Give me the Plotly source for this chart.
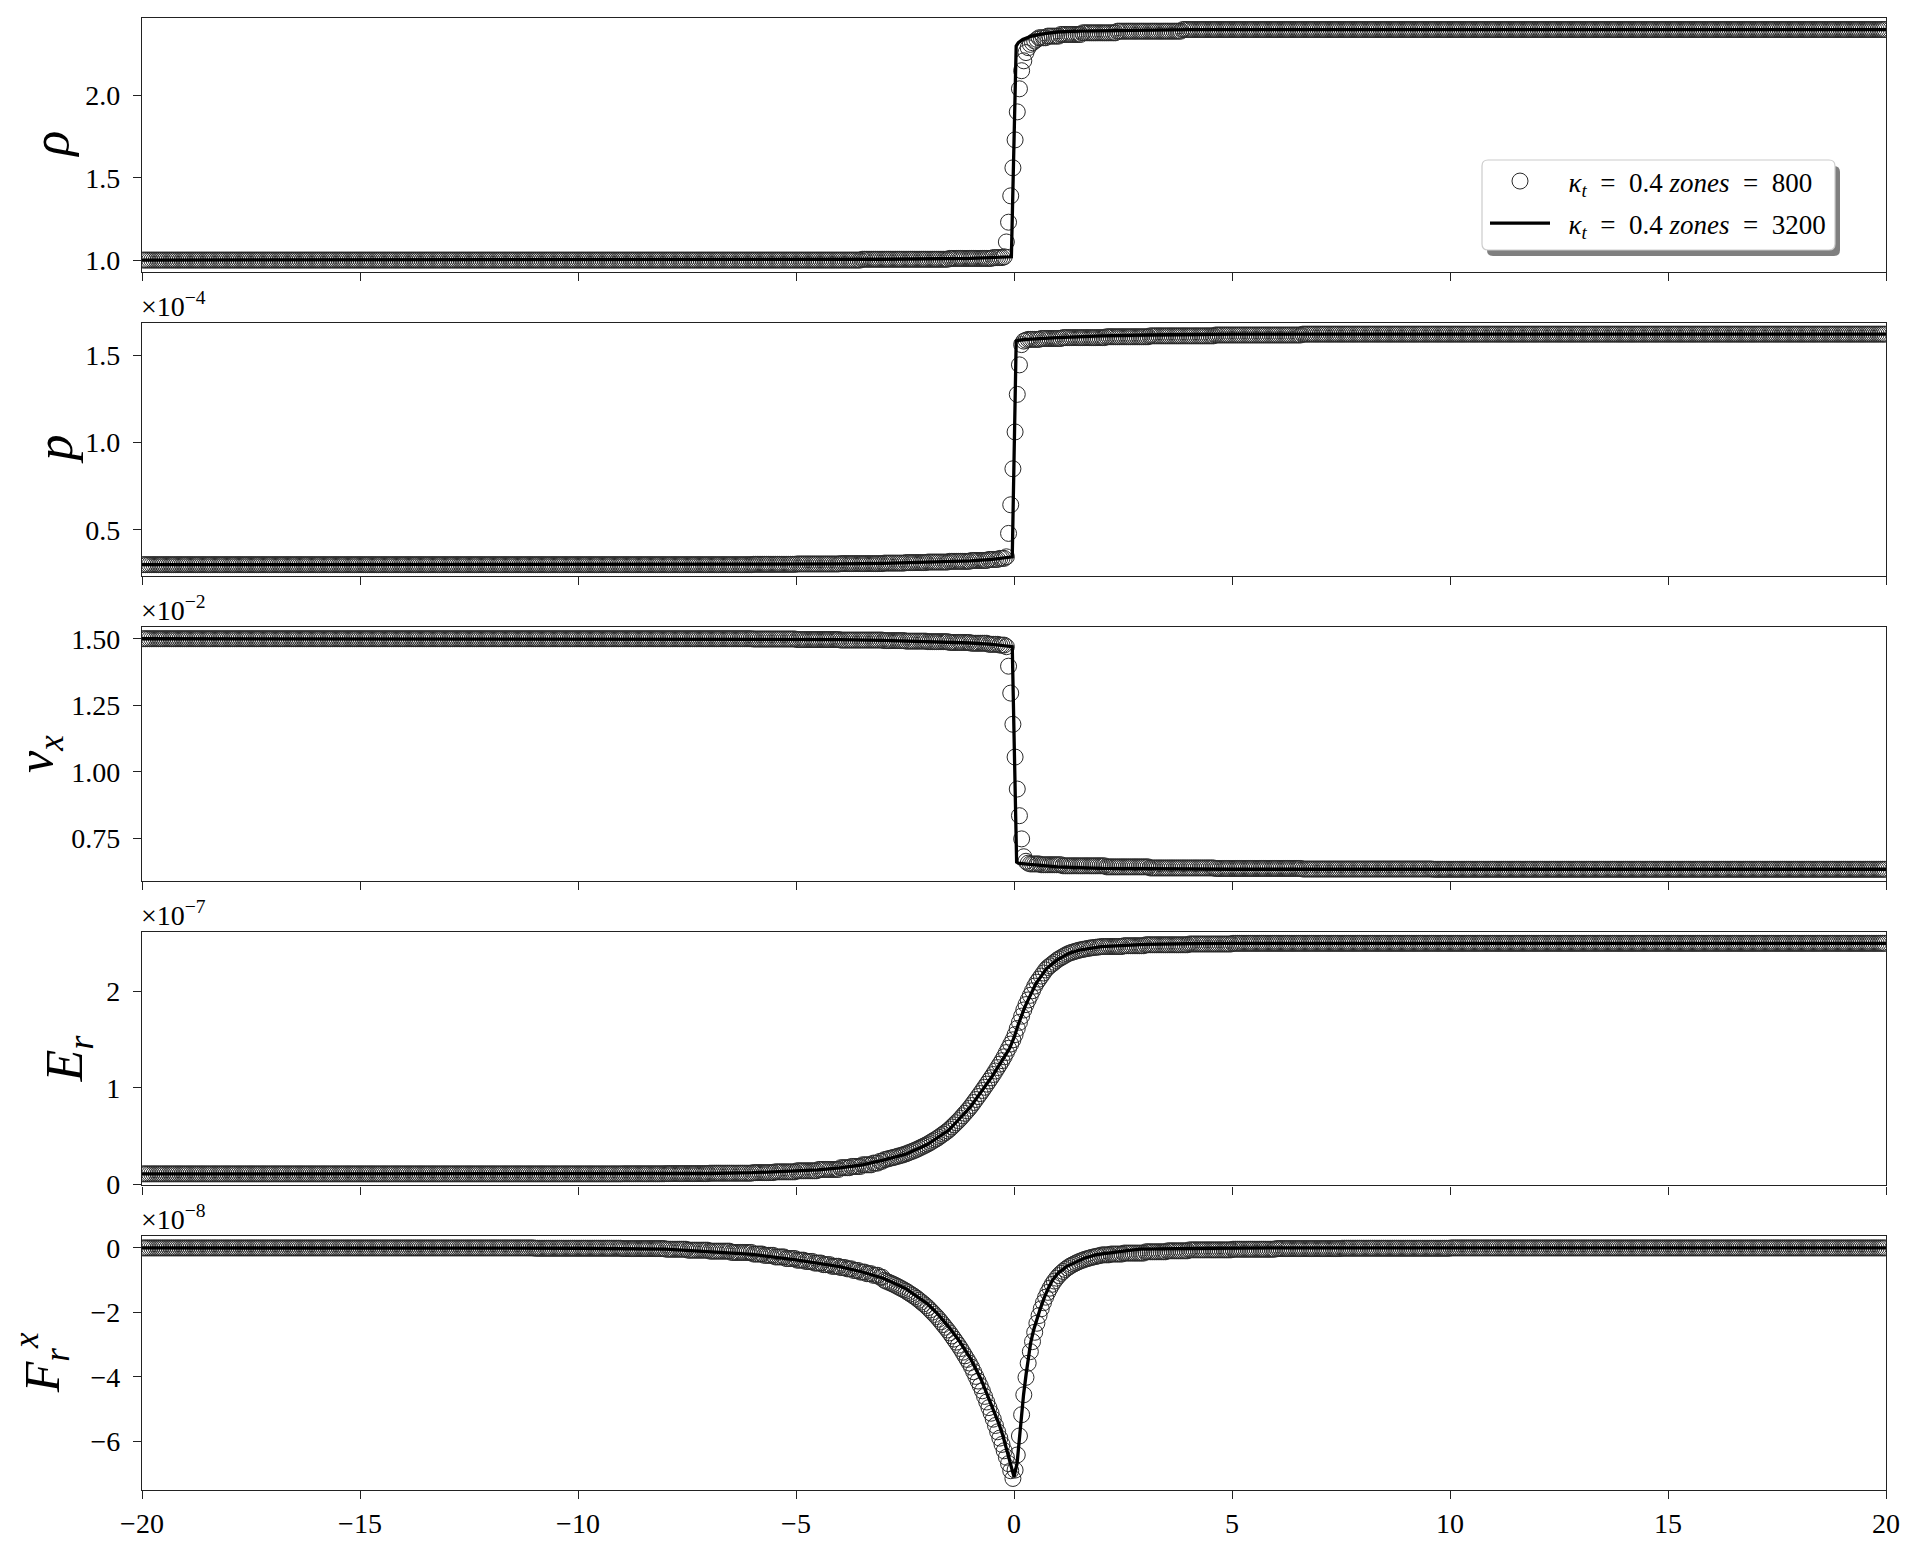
import numpy as np
import plotly.graph_objects as go

# ---------------------------------------------------------------------------
# Data. Values are in the units shown on each
# axis (multipliers x10^-4, x10^-2, x10^-7, x10^-8 are printed above panels).
# ---------------------------------------------------------------------------
X_MIN, X_MAX = -20.0, 20.0
N_LO = 800          # zones in the coarse run (circles)
X_TICKS = [-20, -15, -10, -5, 0, 5, 10, 15, 20]

EQ = "\u2002=\u2002"
SP = "\u2002"
LABEL_LO = f"{SP}<i>κ</i><sub><i>t</i></sub>{EQ}0.4 <i>zones</i>{EQ}800"
LABEL_HI = f"{SP}<i>κ</i><sub><i>t</i></sub>{EQ}0.4 <i>zones</i>{EQ}3200"

# Coarse run: per zone values. LEFT / RIGHT are runs of (value, number of zones),
# FRONT lists one value per zone across the shock.
RHO_LO_LEFT = [(1.000, 330), (1.005, 40), (1.010, 20), (1.015, 5), (1.020, 1)]
RHO_LO_FRONT = [1.11, 1.23, 1.39, 1.56, 1.73, 1.90, 2.04, 2.15, 2.21, 2.26,
                2.29, 2.31, 2.32, 2.33, 2.34]
RHO_LO_RIGHT = [(2.35, 4), (2.36, 6), (2.37, 10), (2.38, 16), (2.39, 30), (2.40, 323)]

P_LO_LEFT = [(0.300, 280), (0.302, 20), (0.304, 20), (0.306, 20), (0.309, 10),
             (0.312, 10), (0.315, 10), (0.319, 10), (0.324, 8), (0.330, 5), (0.336, 3)]
P_LO_FRONT = [0.345, 0.479, 0.643, 0.849, 1.060, 1.275, 1.444, 1.560, 1.580, 1.585]
P_LO_RIGHT = [(1.590, 6), (1.595, 10), (1.600, 20), (1.605, 20), (1.610, 30),
              (1.615, 40), (1.620, 268)]

VX_LO_LEFT = [(1.500, 280), (1.499, 20), (1.497, 20), (1.495, 20), (1.493, 10),
              (1.491, 10), (1.489, 10), (1.486, 10), (1.483, 8), (1.479, 5), (1.476, 3)]
VX_LO_FRONT = [1.470, 1.397, 1.296, 1.179, 1.056, 0.936, 0.836, 0.749, 0.682,
               0.665, 0.658]
VX_LO_RIGHT = [(0.655, 5), (0.652, 10), (0.648, 20), (0.644, 20), (0.640, 30),
               (0.638, 40), (0.636, 60), (0.635, 208)]

ER_LO_LEFT = [(0.106, 220), (0.107, 20), (0.109, 20), (0.113, 20), (0.119, 10),
              (0.127, 10), (0.138, 10), (0.152, 10), (0.170, 5), (0.183, 5),
              (0.200, 5), (0.218, 3), (0.236, 2)]
ER_LO_FRONT = [
    0.253, 0.258, 0.264, 0.270, 0.275, 0.281, 0.288, 0.294, 0.300, 0.307,
    0.315, 0.324, 0.333, 0.342, 0.351, 0.361, 0.372, 0.383, 0.394, 0.405,
    0.417, 0.430, 0.444, 0.458, 0.471, 0.486, 0.503, 0.519, 0.535, 0.552,
    0.571, 0.593, 0.615, 0.637, 0.659, 0.683, 0.709, 0.735, 0.761, 0.787,
    0.816, 0.847, 0.878, 0.909, 0.940, 0.972, 1.005, 1.038, 1.071, 1.104,
    1.138, 1.174, 1.210, 1.246, 1.282, 1.322, 1.366, 1.410, 1.454, 1.498,
    1.552, 1.616, 1.680, 1.744, 1.808, 1.864, 1.912, 1.960, 2.008, 2.056,
    2.096, 2.128, 2.160, 2.192, 2.224, 2.249, 2.267, 2.285, 2.303, 2.321,
    2.337, 2.350, 2.363, 2.376, 2.389, 2.399, 2.406, 2.413, 2.420, 2.427,
    2.432, 2.437, 2.441, 2.445, 2.450, 2.453, 2.456, 2.459, 2.461, 2.464]
ER_LO_RIGHT = [(2.467, 10), (2.475, 10), (2.485, 20), (2.493, 20), (2.500, 300)]

FR_LO_LEFT = [(0.00, 180), (-0.01, 40), (-0.02, 20), (-0.04, 10), (-0.07, 10),
              (-0.10, 10), (-0.14, 10), (-0.19, 5), (-0.23, 5), (-0.28, 5),
              (-0.33, 5), (-0.38, 4), (-0.42, 4), (-0.47, 4), (-0.52, 4),
              (-0.57, 4), (-0.61, 3), (-0.65, 3), (-0.70, 3), (-0.75, 3),
              (-0.80, 3), (-0.85, 3), (-0.91, 2)]
FR_LO_FRONT = [
    -1.005, -1.035, -1.065, -1.095, -1.125, -1.158, -1.194, -1.230, -1.266, -1.302,
    -1.342, -1.386, -1.430, -1.474, -1.518, -1.568, -1.624, -1.680, -1.736, -1.792,
    -1.855, -1.925, -1.995, -2.065, -2.135, -2.212, -2.296, -2.380, -2.464, -2.548,
    -2.638, -2.734, -2.830, -2.926, -3.022, -3.126, -3.238, -3.350, -3.462, -3.574,
    -3.702, -3.846, -3.990, -4.134, -4.278, -4.437, -4.611, -4.785, -4.959, -5.133,
    -5.318, -5.514, -5.710, -5.906, -6.102, -6.300, -6.500, -6.700, -6.920, -7.160,
    -6.900, -6.430, -5.840, -5.180, -4.560, -4.020, -3.580, -3.220, -2.910, -2.620,
    -2.340, -2.100, -1.890, -1.700, -1.530, -1.380, -1.250, -1.130, -1.030, -0.940,
    -0.860, -0.790, -0.730, -0.670, -0.620, -0.575, -0.535, -0.500, -0.465, -0.435,
    -0.405, -0.380, -0.355, -0.335, -0.315, -0.295, -0.280, -0.265, -0.250, -0.235]
FR_LO_RIGHT = [(-0.215, 4), (-0.19, 6), (-0.16, 10), (-0.12, 10), (-0.09, 10),
               (-0.06, 20), (-0.04, 20), (-0.02, 30), (-0.01, 50), (0.00, 200)]

# Fine run (3200 zones): points along the solid curve.
RHO_HI_X = [-20, -5, -3, -1, -0.3, -0.06, 0.05, 0.1, 0.2, 0.4, 0.7, 1.0, 1.5, 2.5, 4, 20]
RHO_HI_Y = [1.000, 1.000, 1.005, 1.010, 1.015, 1.020, 2.300, 2.320, 2.340, 2.360,
            2.375, 2.385, 2.390, 2.395, 2.400, 2.400]

P_HI_X = [-20, -6, -4, -3, -2, -1, -0.5, -0.2, -0.04, 0.05, 0.1, 0.3, 0.6, 1.0, 2.0, 3.0, 5.0, 20]
P_HI_Y = [0.300, 0.300, 0.304, 0.307, 0.313, 0.322, 0.330, 0.337, 0.345, 1.580,
          1.585, 1.590, 1.595, 1.600, 1.610, 1.615, 1.620, 1.620]

VX_HI_X = [-20, -6, -4, -3, -2, -1, -0.5, -0.2, -0.04, 0.06, 0.1, 0.3, 0.6, 1.0, 2.0, 3.0, 5.0, 20]
VX_HI_Y = [1.500, 1.500, 1.497, 1.494, 1.490, 1.484, 1.479, 1.475, 1.470, 0.662,
           0.658, 0.654, 0.649, 0.644, 0.638, 0.636, 0.635, 0.635]

ER_HI_X = [-20, -8, -7, -6, -5, -4.5, -4, -3.5, -3, -2.5, -2, -1.5, -1, -0.75, -0.5,
           -0.25, -0.1, 0, 0.1, 0.25, 0.5, 0.75, 1.0, 1.25, 1.5, 2.0, 2.5, 3, 4, 5, 20]
ER_HI_Y = [0.106, 0.107, 0.110, 0.118, 0.133, 0.148, 0.168, 0.198, 0.248, 0.308,
           0.408, 0.558, 0.800, 0.955, 1.120, 1.300, 1.410, 1.520, 1.660, 1.840,
           2.080, 2.240, 2.330, 2.395, 2.430, 2.465, 2.480, 2.490, 2.497, 2.500, 2.500]

FR_HI_X = [-20, -10, -8, -7.5, -7, -6, -5, -4, -3.5, -3, -2.5, -2, -1.75, -1.5, -1.25,
           -1, -0.75, -0.5, -0.35, -0.25, -0.15, -0.07, 0.0, 0.07, 0.12, 0.17, 0.22,
           0.28, 0.33, 0.38, 0.45, 0.53, 0.6, 0.69, 0.78, 0.89, 1.0, 1.2, 1.4, 1.61,
           1.9, 2.23, 2.6, 2.9, 3.5, 4.5, 6, 20]
FR_HI_Y = [0.0, -0.01, -0.04, -0.08, -0.11, -0.20, -0.37, -0.58, -0.74, -0.94, -1.25,
           -1.72, -2.05, -2.45, -2.90, -3.43, -4.10, -4.93, -5.45, -5.85, -6.35, -6.75,
           -7.11, -6.70, -5.95, -5.24, -4.55, -3.90, -3.40, -2.96, -2.55, -2.19, -1.90,
           -1.56, -1.27, -0.99, -0.80, -0.58, -0.44, -0.32, -0.21, -0.145, -0.085,
           -0.04, -0.02, -0.01, 0.0, 0.0]

Y_LABELS = ["<i>ρ</i>", "<i>p</i>", "<i>v</i><sub><i>x</i></sub>",
            "<i>E</i><sub><i>r</i></sub>", "<i>F</i><sub><i>r</i></sub><sup><i>x</i></sup>"]
Y_MULT = [None, "−4", "−2", "−7", "−8"]
Y_TICKS = [[1.0, 1.5, 2.0], [0.5, 1.0, 1.5], [0.75, 1.00, 1.25, 1.50], [0, 1, 2], [-6, -4, -2, 0]]
Y_TICKFMT = [".1f", ".1f", ".2f", "d", "d"]


def expand(left, front, right):
    vals = [v for v, n in left for _ in range(n)] + list(front) + \
           [v for v, n in right for _ in range(n)]
    assert len(vals) == N_LO, len(vals)
    return np.array(vals)


x_lo = X_MIN + (np.arange(N_LO) + 0.5) * (X_MAX - X_MIN) / N_LO   # zone centres

panels = [
    (expand(RHO_LO_LEFT, RHO_LO_FRONT, RHO_LO_RIGHT), RHO_HI_X, RHO_HI_Y),
    (expand(P_LO_LEFT, P_LO_FRONT, P_LO_RIGHT), P_HI_X, P_HI_Y),
    (expand(VX_LO_LEFT, VX_LO_FRONT, VX_LO_RIGHT), VX_HI_X, VX_HI_Y),
    (expand(ER_LO_LEFT, ER_LO_FRONT, ER_LO_RIGHT), ER_HI_X, ER_HI_Y),
    (expand(FR_LO_LEFT, FR_LO_FRONT, FR_LO_RIGHT), FR_HI_X, FR_HI_Y),
]

# ---------------------------------------------------------------------------
# Layout (page has an 8 px body margin; figure sized to fit the window)
PAGE = 8
W, H = 1914 - 2 * PAGE, 1548 - 2 * PAGE
ML, MR, MT, MB = 134, 20, 10, 50
PLOT_W = W - ML - MR
PLOT_H = H - MT - MB
PANEL_H, GAP = 253.6, 51.0
FONT = "Liberation Serif"
AX_COL = "#222222"
TICK_SIZE = 28
Y_LABEL_CX = [51, 54, 39, 69, 42]   # window px, centre of each y-label text box
Y_LABEL_SIZE = [52, 52, 50, 52, 50]


def px_to_paper_x(px):          # window pixel -> paper
    return (px - PAGE - ML) / PLOT_W


def px_to_paper_y(py):
    return (PAGE + MT + PLOT_H - py) / PLOT_H


fig = go.Figure()
layout = dict(
    width=W, height=H,
    margin=dict(l=ML, r=MR, t=MT, b=MB, autoexpand=False),
    paper_bgcolor="white", plot_bgcolor="white",
    font=dict(family=FONT, size=TICK_SIZE, color="black"),
    showlegend=True,
)
annotations = []
for k, (y_lo, hx, hy) in enumerate(panels):
    n = k + 1
    top = min(1.0, max(0.0, 1.0 - k * (PANEL_H + GAP) / PLOT_H))
    bot = min(1.0, max(0.0, round(top - PANEL_H / PLOT_H, 6)))
    if n == 5:
        bot = 0.0
    xa = "x" if n == 1 else f"x{n}"
    ya = "y" if n == 1 else f"y{n}"
    fig.add_trace(go.Scatter(
        x=x_lo, y=y_lo, mode="markers", name=LABEL_LO, legendgroup="lo",
        showlegend=(k == 0), xaxis=xa, yaxis=ya,
        marker=dict(symbol="circle-open", size=16, color="#2a2a2a",
                    line=dict(width=1, color="#2a2a2a")),
    ))
    fig.add_trace(go.Scatter(
        x=hx, y=hy, mode="lines", name=LABEL_HI, legendgroup="hi",
        showlegend=(k == 0), xaxis=xa, yaxis=ya,
        line=dict(color="black", width=3.3),
    ))
    lo = min(y_lo.min(), min(hy))
    hi = max(y_lo.max(), max(hy))
    pad = 0.05 * (hi - lo)
    xdict = dict(
        domain=[0, 1], range=[X_MIN, X_MAX], anchor=ya,
        tickvals=X_TICKS, ticks="outside", ticklen=8, tickwidth=1.4, tickcolor=AX_COL,
        showline=True, mirror=True, linecolor=AX_COL, linewidth=1.4,
        showgrid=False, zeroline=False, showticklabels=(n == 5),
        tickfont=dict(family=FONT, size=TICK_SIZE),
    )
    if n > 1:
        xdict["matches"] = "x"
    layout["xaxis" if n == 1 else f"xaxis{n}"] = xdict
    layout["yaxis" if n == 1 else f"yaxis{n}"] = dict(
        domain=[bot, top], range=[lo - pad, hi + pad], anchor=xa,
        tickvals=Y_TICKS[k], tickformat=Y_TICKFMT[k],
        ticks="outside", ticklen=8, tickwidth=1.4, tickcolor=AX_COL,
        showline=True, mirror=True, linecolor=AX_COL, linewidth=1.4,
        showgrid=False, zeroline=False, automargin=False,
        tickfont=dict(family=FONT, size=TICK_SIZE), ticklabelstandoff=7,
    )
    annotations.append(dict(
        text=Y_LABELS[k], xref="paper", yref="paper",
        x=px_to_paper_x(Y_LABEL_CX[k]), y=(bot + top) / 2,
        xanchor="center", yanchor="middle", textangle=-90, showarrow=False,
        font=dict(family=FONT, size=Y_LABEL_SIZE[k], color="black"),
    ))
    if Y_MULT[k]:
        annotations.append(dict(
            text=f"×10<sup>{Y_MULT[k]}</sup>", xref="paper", yref="paper",
            x=0, y=top, xanchor="left", yanchor="bottom", xshift=-3, yshift=-1,
            showarrow=False, font=dict(family=FONT, size=TICK_SIZE, color="black"),
        ))

# ---- legend: rounded white box with a drop shadow, drawn with shapes --------
BOX = (1482, 160, 1835, 250)      # window px: left, top, right, bottom
SHADOW_DX, SHADOW_DY, RADIUS = 5, 6, 6


def rounded_rect(x0, y0, x1, y1, r):
    P = lambda x, y: f"{px_to_paper_x(x):.6f},{px_to_paper_y(y):.6f}"
    return (f"M{P(x0 + r, y0)} L{P(x1 - r, y0)} Q{P(x1, y0)} {P(x1, y0 + r)} "
            f"L{P(x1, y1 - r)} Q{P(x1, y1)} {P(x1 - r, y1)} L{P(x0 + r, y1)} "
            f"Q{P(x0, y1)} {P(x0, y1 - r)} L{P(x0, y0 + r)} Q{P(x0, y0)} {P(x0 + r, y0)} Z")


layout["shapes"] = [
    dict(type="path", xref="paper", yref="paper", layer="above",
         path=rounded_rect(BOX[0] + SHADOW_DX, BOX[1] + SHADOW_DY,
                           BOX[2] + SHADOW_DX, BOX[3] + SHADOW_DY, RADIUS),
         fillcolor="rgba(0,0,0,0.5)", line=dict(width=0)),
    dict(type="path", xref="paper", yref="paper", layer="above",
         path=rounded_rect(*BOX, RADIUS),
         fillcolor="white", line=dict(width=1.2, color="#cccccc")),
]
layout["legend"] = dict(
    x=px_to_paper_x(BOX[0] + 3), y=px_to_paper_y(BOX[1] - 3),
    xanchor="left", yanchor="top",
    bgcolor="rgba(0,0,0,0)", borderwidth=0,
    font=dict(family=FONT, size=27, color="black"),
    itemsizing="trace", itemwidth=60, tracegroupgap=4,
)
layout["annotations"] = annotations
fig.update_layout(**layout)
fig.write_html("out.html")
